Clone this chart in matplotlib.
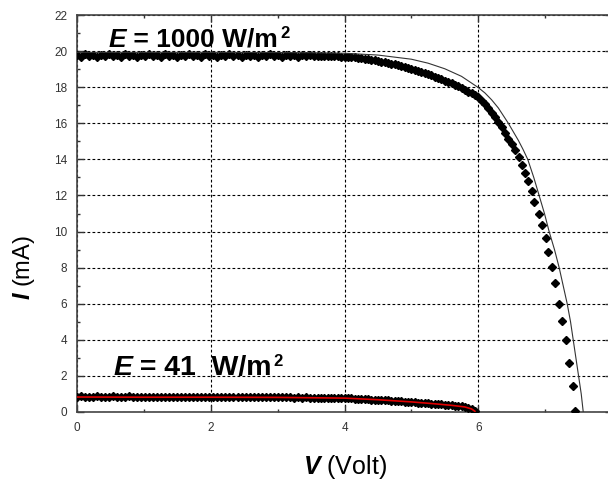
import matplotlib
matplotlib.use("Agg")
import matplotlib.pyplot as plt
from matplotlib.ticker import MultipleLocator, FixedLocator

plt.rcParams["font.family"] = ["Liberation Sans", "DejaVu Sans"]
plt.rcParams["mathtext.fontset"] = "custom"
plt.rcParams["mathtext.rm"] = "Liberation Sans:bold"
plt.rcParams["mathtext.it"] = "Liberation Sans:bold:italic"
plt.rcParams["mathtext.bf"] = "Liberation Sans:bold"

# voltage sweep points shared by both measurements
V_sweep = [
    0.00, 0.06, 0.12, 0.18, 0.24, 0.30, 0.36, 0.42, 0.48, 0.54,
    0.60, 0.66, 0.72, 0.78, 0.84, 0.90, 0.96, 1.02, 1.08, 1.14,
    1.20, 1.26, 1.32, 1.38, 1.44, 1.50, 1.56, 1.62, 1.68, 1.74,
    1.80, 1.86, 1.92, 1.98, 2.04, 2.10, 2.16, 2.22, 2.28, 2.34,
    2.40, 2.46, 2.52, 2.58, 2.64, 2.70, 2.76, 2.82, 2.88, 2.94,
    3.00, 3.06, 3.12, 3.18, 3.24, 3.30, 3.36, 3.42, 3.48, 3.54,
    3.60, 3.65, 3.70, 3.75, 3.80, 3.85, 3.90, 3.95, 4.00, 4.05,
    4.10, 4.15, 4.20, 4.25, 4.30, 4.35, 4.40, 4.45, 4.50, 4.55,
    4.60, 4.65, 4.70, 4.75, 4.80, 4.85, 4.90, 4.95, 5.00, 5.05,
    5.10, 5.15, 5.20, 5.25, 5.30, 5.35, 5.40, 5.45, 5.50, 5.55,
    5.60, 5.65, 5.70, 5.75, 5.80, 5.85, 5.90, 5.95, 6.00, 6.05,
    6.10, 6.15, 6.20, 6.25, 6.30, 6.35, 6.40, 6.45, 6.50, 6.55,
]

# E = 1000 W/m2, measured (mA)
I_1000_sweep = [
    19.78, 19.70, 19.82, 19.72, 19.79, 19.68, 19.81, 19.74, 19.84, 19.71,
    19.77, 19.69, 19.82, 19.73, 19.80, 19.70, 19.81, 19.74, 19.83, 19.71,
    19.78, 19.68, 19.82, 19.72, 19.80, 19.70, 19.81, 19.75, 19.84, 19.71,
    19.78, 19.69, 19.82, 19.73, 19.80, 19.70, 19.81, 19.74, 19.83, 19.71,
    19.77, 19.69, 19.81, 19.72, 19.79, 19.70, 19.80, 19.73, 19.82, 19.71,
    19.77, 19.69, 19.80, 19.72, 19.78, 19.70, 19.79, 19.72, 19.78, 19.73,
    19.74, 19.73, 19.74, 19.72, 19.73, 19.71, 19.72, 19.70, 19.70, 19.68,
    19.67, 19.65, 19.63, 19.61, 19.58, 19.56, 19.52, 19.49, 19.46, 19.42,
    19.39, 19.35, 19.31, 19.27, 19.22, 19.18, 19.13, 19.08, 19.03, 18.97,
    18.91, 18.85, 18.79, 18.72, 18.65, 18.58, 18.51, 18.44, 18.37, 18.29,
    18.21, 18.13, 18.04, 17.95, 17.86, 17.76, 17.66, 17.55, 17.43, 17.25,
    17.05, 16.82, 16.58, 16.33, 16.06, 15.78, 15.47, 15.14, 14.84, 14.52,
]
V_1000_tail = [6.61, 6.66, 6.70, 6.75, 6.80, 6.84, 6.91, 6.95, 7.01, 7.05,
               7.11, 7.15, 7.21, 7.25, 7.31, 7.35, 7.41, 7.45]
I_1000_tail = [14.13, 13.67, 13.27, 12.79, 12.24, 11.61, 11.00, 10.37, 9.63, 8.84,
               8.04, 7.17, 6.00, 5.05, 4.00, 2.74, 1.46, 0.04]

# E = 1000 W/m2, model curve
V_1000_fit = [0.0, 1.0, 2.0, 3.0, 3.5, 4.0, 4.5, 5.0, 5.25, 5.5, 5.75, 6.0,
              6.1, 6.2, 6.3, 6.45, 6.6, 6.67, 6.74, 6.83, 6.91, 6.99, 7.06,
              7.14, 7.21, 7.27, 7.33, 7.38, 7.42, 7.46, 7.50, 7.54, 7.57]
I_1000_fit = [19.93, 19.93, 19.93, 19.92, 19.91, 19.88, 19.78, 19.55, 19.33,
              19.02, 18.60, 17.98, 17.68, 17.30, 16.85, 16.00, 15.05, 14.55,
              14.00, 13.00, 12.00, 11.00, 10.00, 9.00, 8.00, 7.00, 6.00, 5.00,
              4.00, 3.00, 2.00, 1.00, 0.00]

# E = 41 W/m2, measured (mA), on V_sweep up to 5.95 V
I_41_sweep = [
    0.84, 0.86, 0.83, 0.85, 0.84, 0.86, 0.83, 0.85, 0.84, 0.86,
    0.83, 0.85, 0.84, 0.86, 0.83, 0.85, 0.84, 0.85, 0.83, 0.85,
    0.84, 0.85, 0.83, 0.85, 0.84, 0.85, 0.83, 0.84, 0.83, 0.85,
    0.83, 0.84, 0.83, 0.84, 0.82, 0.84, 0.83, 0.84, 0.82, 0.83,
    0.82, 0.84, 0.82, 0.83, 0.82, 0.83, 0.81, 0.83, 0.82, 0.82,
    0.81, 0.82, 0.81, 0.82, 0.80, 0.81, 0.80, 0.81, 0.80, 0.80,
    0.80, 0.80, 0.79, 0.79, 0.78, 0.78, 0.77, 0.77, 0.76, 0.75,
    0.75, 0.74, 0.73, 0.72, 0.71, 0.70, 0.69, 0.68, 0.67, 0.66,
    0.65, 0.64, 0.63, 0.62, 0.60, 0.59, 0.58, 0.57, 0.55, 0.54,
    0.52, 0.51, 0.50, 0.48, 0.47, 0.45, 0.44, 0.42, 0.41, 0.39,
    0.37, 0.35, 0.33, 0.31, 0.28, 0.24, 0.17, 0.06,
]
V_41 = V_sweep[:len(I_41_sweep)]

# E = 41 W/m2, model curve
V_41_fit = [0.0, 1.0, 2.0, 3.0, 4.0, 4.5, 5.0, 5.3, 5.6, 5.8, 5.9, 5.95]
I_41_fit = [0.83, 0.82, 0.82, 0.81, 0.77, 0.68, 0.56, 0.47, 0.37, 0.28, 0.17, 0.04]

x_ticks = [0, 2, 4, 6]

V_1000 = V_sweep + V_1000_tail
I_1000 = I_1000_sweep + I_1000_tail

fig = plt.figure(figsize=(6.08, 4.83), dpi=100)
ax = fig.add_axes([77 / 608, 71 / 483, 535 / 608, 397 / 483])

ax.plot(V_1000, I_1000, linestyle="none", marker="D", ms=4.4,
        color="black", zorder=3)
ax.plot(V_41, I_41_sweep, linestyle="none", marker="D", ms=4.4,
        color="black", zorder=3)
ax.plot(V_1000_fit, I_1000_fit, color="#333333", lw=0.8, zorder=4)
ax.plot(V_41_fit, I_41_fit, color="#e00000", lw=1.2, zorder=4)

ax.set_xlim(0, 8)
ax.set_ylim(0, 22)
ax.xaxis.set_major_locator(FixedLocator(x_ticks))
ax.xaxis.set_minor_locator(MultipleLocator(1))
ax.yaxis.set_major_locator(MultipleLocator(2))
ax.yaxis.set_minor_locator(MultipleLocator(1))
ax.grid(True, which="major", color="black", linestyle=(0, (2.5, 2)), lw=0.8)
ax.set_axisbelow(True)
ax.tick_params(which="both", direction="in", top=True, right=True,
               colors="#333333", labelsize=8.5, pad=7)
ax.tick_params(which="major", length=5, width=1)
ax.tick_params(which="minor", length=2.5, width=1)
for sp in ax.spines.values():
    sp.set_color("#444444")
    sp.set_linewidth(1.2)

ax.set_xlabel(r"$V$ (Volt)", fontsize=18, labelpad=14)
ax.set_ylabel(r"$I$ (mA)", fontsize=17)
ax.yaxis.set_label_coords(-0.075, 0.365)


def irradiance_label(x, y, value, size):
    e = ax.text(x, y, "E", fontsize=size, fontweight="bold", style="italic",
                va="baseline", zorder=5)
    rest = ax.annotate(" = " + value + " W/m", xy=(1, 0), xycoords=e,
                       fontsize=size, fontweight="bold", va="bottom", zorder=5)
    ax.annotate("2", xy=(1, 1), xycoords=rest, xytext=(1.5, 1),
                textcoords="offset points", fontsize=12, fontweight="bold",
                va="top", zorder=5)


irradiance_label(0.47, 20.24, "1000", 19)
irradiance_label(0.54, 2.05, "41 ", 20.5)

fig.savefig("out.png", dpi=100)
